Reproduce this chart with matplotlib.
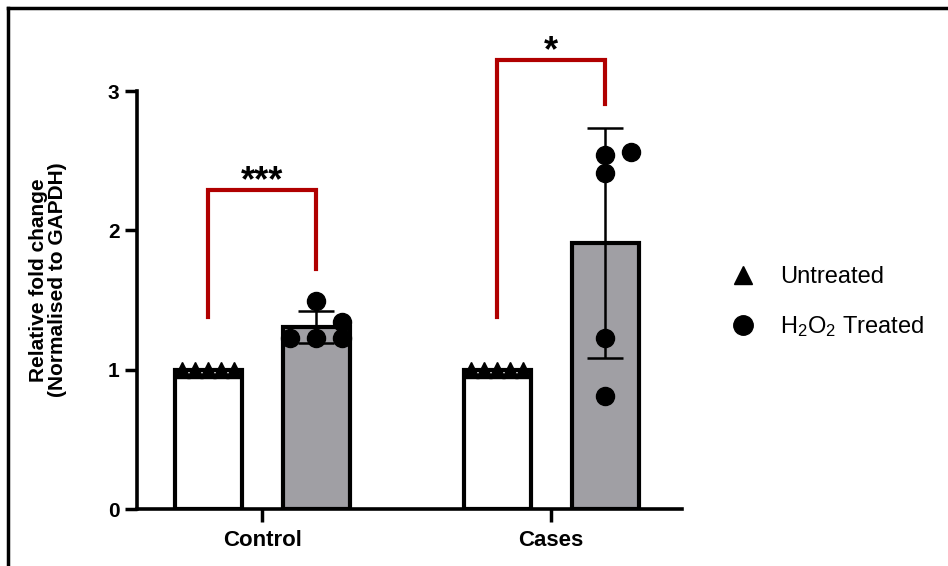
import numpy as np
import matplotlib
matplotlib.use("Agg")
import matplotlib.pyplot as plt
from matplotlib.lines import Line2D

plt.rcParams['font.family'] = ['Liberation Sans', 'DejaVu Sans']
plt.rcParams['mathtext.fontset'] = 'custom'
plt.rcParams['mathtext.rm'] = 'Liberation Sans'
plt.rcParams['mathtext.it'] = 'Liberation Sans'

# data
groups = ['Control', 'Cases']
untreated = [[1.0, 1.0, 1.0, 1.0, 1.0],
             [1.0, 1.0, 1.0, 1.0, 1.0]]
treated = [[1.49, 1.34, 1.23, 1.23, 1.23],
           [2.54, 2.56, 2.41, 1.23, 0.81]]
treated_jitter = [[0.0, 0.09, -0.09, 0.0, 0.09],
                  [0.0, 0.09, 0.0, 0.0, 0.0]]
stars = ['***', '*']
# bracket heights: left leg bottom, top, right leg bottom
brackets = [(1.38, 2.29, 1.72), (1.38, 3.22, 2.91)]

off = 0.187
bw = 0.232
red = '#b00000'
grey = '#a09fa4'

fig = plt.figure(figsize=(9.48, 5.66), dpi=100)
ax = fig.add_axes([0.1445, 0.1007, 0.575, 0.7385])

x = np.arange(len(groups))
for i in x:
    u = np.array(untreated[i])
    t = np.array(treated[i])
    ax.bar(i - off, u.mean(), width=bw, color='white', edgecolor='black',
           linewidth=3, zorder=2)
    ax.bar(i + off, t.mean(), width=bw, color=grey, edgecolor='black',
           linewidth=3, zorder=2)
    ax.errorbar(i + off, t.mean(), yerr=t.std(ddof=1), color='black',
                lw=1.8, capsize=13, capthick=1.8, zorder=3)
    ux = i - off + np.linspace(-0.09, 0.09, len(u))
    ax.plot(ux, u, ls='none', marker='^', ms=11, color='black', zorder=4,
            clip_on=False)
    ax.plot(i + off + np.array(treated_jitter[i]), t, ls='none', marker='o',
            ms=13, color='black', zorder=4, clip_on=False)
    # significance bracket
    lo_l, top, lo_r = brackets[i]
    ax.plot([i - off, i - off, i + off, i + off], [lo_l, top, top, lo_r],
            color=red, lw=3, clip_on=False, zorder=5, solid_joinstyle='miter')
    ax.text(i, top + 0.06, stars[i], ha='center', va='center', fontsize=26,
            fontweight='bold', clip_on=False)

ax.set_xlim(-0.433, 1.453)
ax.set_ylim(0, 3)
ax.set_yticks([0, 1, 2, 3])
ax.set_xticks(x)
ax.set_xticklabels(groups, fontsize=16, fontweight='bold')
for lbl in ax.get_yticklabels():
    lbl.set_fontweight('bold')
    lbl.set_fontsize(15)
ax.tick_params(axis='both', width=2.5, length=9, direction='out')
ax.tick_params(axis='x', pad=6)
for s in ['top', 'right']:
    ax.spines[s].set_visible(False)
for s in ['left', 'bottom']:
    ax.spines[s].set_linewidth(2.6)
ax.set_ylabel('Relative fold change\n(Normalised to GAPDH)', fontsize=15,
              fontweight='bold', linespacing=1.0)
ax.yaxis.set_label_coords(-0.128, 0.548)

handles = [Line2D([], [], ls='none', marker='^', ms=13, color='black'),
           Line2D([], [], ls='none', marker='o', ms=14, color='black')]
fig.legend(handles, ['Untreated', 'H$_2$O$_2$ Treated'], loc='center left',
           bbox_to_anchor=(0.746, 0.465), frameon=False,
           labelspacing=1.1, handletextpad=1.0, handlelength=1.2,
           prop={'family': 'Liberation Sans', 'size': 17})

# outer frame
fig.add_artist(Line2D([8 / 948, 1.0], [1 - 8 / 566, 1 - 8 / 566],
                      transform=fig.transFigure, color='black', lw=2.5))
fig.add_artist(Line2D([8 / 948, 8 / 948], [0.0, 1 - 8 / 566],
                      transform=fig.transFigure, color='black', lw=2.5))

fig.savefig('out.png', dpi=100)
